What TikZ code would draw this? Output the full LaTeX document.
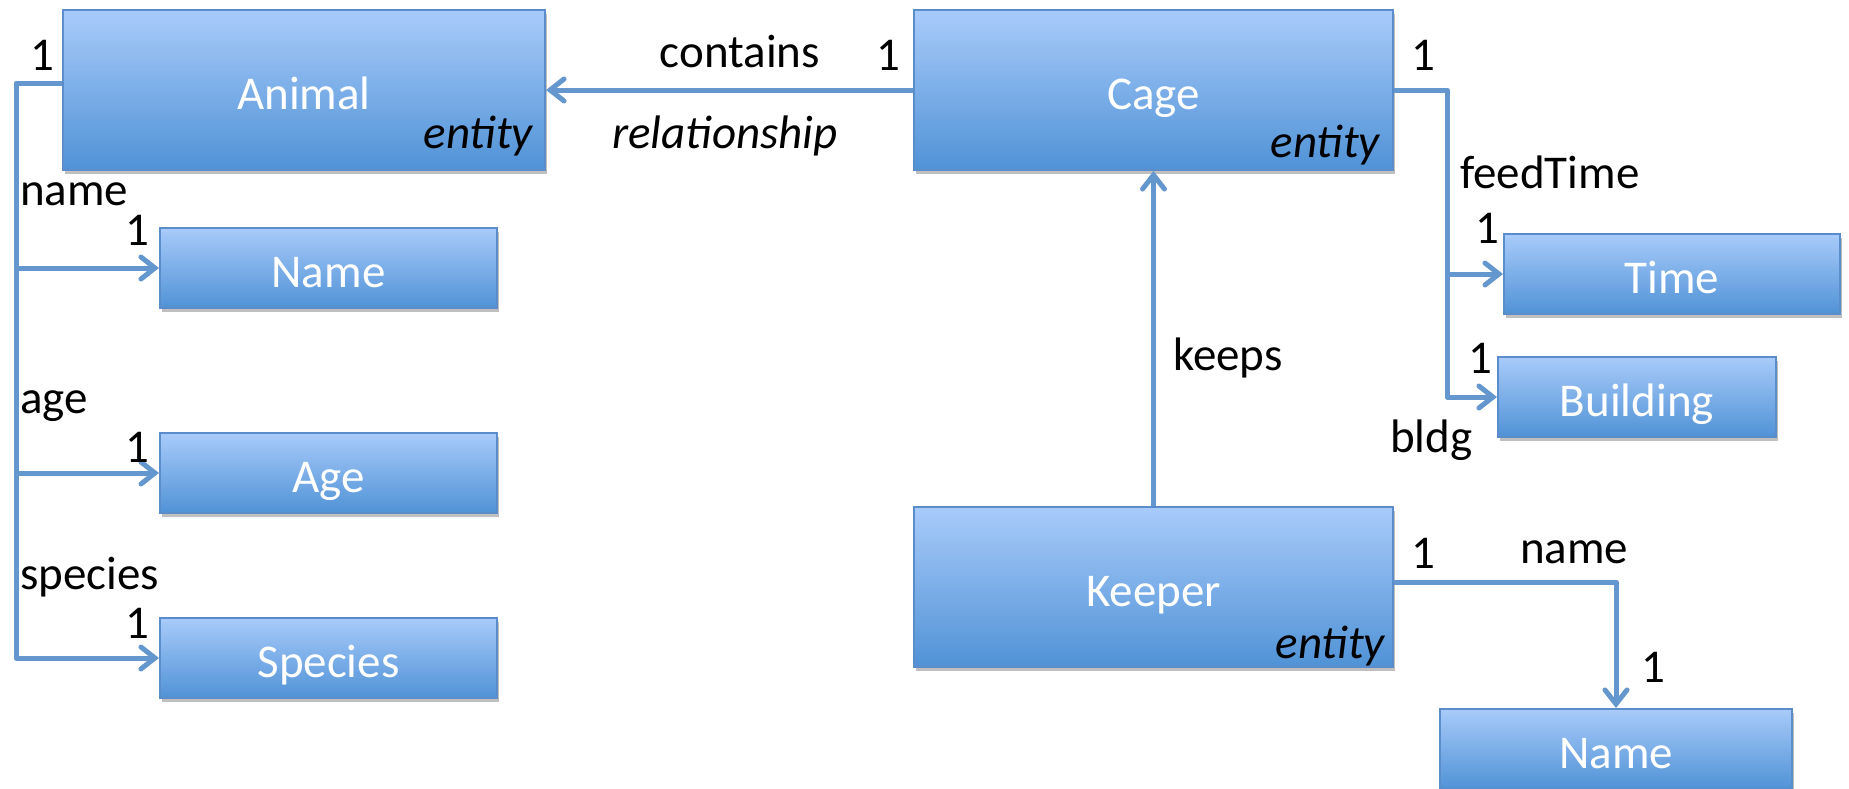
\documentclass[tikz,border=0pt]{standalone}
\usepackage{fontspec}
\setmainfont{Carlito}
\usetikzlibrary{arrows.meta,shadows,calc}
\definecolor{boxtop}{RGB}{168,203,250}
\definecolor{boxbot}{RGB}{80,146,214}
\definecolor{boxline}{RGB}{90,141,201}
\definecolor{conn}{RGB}{99,151,205}
\begin{document}
\begin{tikzpicture}[x=1pt,y=-1pt,
  font=\fontsize{47}{56}\selectfont,
  ebox/.style={draw=boxline, line width=2pt, top color=boxtop, bottom color=boxbot, text=white, inner sep=0pt,
    text height=38pt, text depth=0pt,
    drop shadow={shadow xshift=2pt, shadow yshift=-4pt, opacity=0.25, fill=black}},
  big/.style={ebox, minimum height=160pt},
  small/.style={ebox, minimum height=80pt},
  arr/.style={draw=conn, line width=5pt, -{Straight Barb[length=14pt,width=22pt,line cap=round]}, line join=round},
  lbl/.style={inner sep=0pt, anchor=base west},
  one/.style={inner sep=0pt, anchor=base},
  ital/.style={inner sep=0pt, anchor=base east, font=\fontsize{47}{56}\selectfont\itshape}]
\useasboundingbox (0,0) rectangle (1849,788);

% boxes
\node[big, minimum width=482pt] (animal) at (304,90) {Animal};
\node[big, minimum width=479pt] (cage) at (1153.5,90) {Cage};
\node[big, minimum width=479pt] (keeper) at (1153.5,587) {Keeper};
\node[small, minimum width=337pt] (nameA) at (328.5,268) {Name};
\node[small, minimum width=337pt] (age) at (328.5,473) {Age};
\node[small, minimum width=337pt] (species) at (328.5,658) {Species};
\node[small, minimum width=336pt] (time) at (1672,274) {Time};
\node[small, minimum width=278pt] (bldg) at (1637,397) {Building};
\node[small, minimum width=352pt] (nameK) at (1616,749) {Name};

% connectors
\coordinate (ta) at (16,83);
\draw[arr] (animal.west |- ta) -- (ta) |- (species.west);
\draw[arr] (ta |- nameA.west) -- (nameA.west);
\draw[arr] (ta |- age.west) -- (age.west);
\draw[arr] (cage.west) -- (animal.east);
\draw[arr] (keeper.north) -- (cage.south);
\coordinate (tc) at (1447,90);
\draw[arr] (cage.east) -- (tc) |- (bldg.west);
\draw[arr] (tc |- time.west) -- (time.west);
\coordinate (kc) at (1616,582);
\draw[arr] (keeper.east |- kc) -- (kc) -- (nameK.north);

% labels
\node[one] (n1) at (42,70) {1};
\node[lbl] (lname) at (20,205) {name};
\node[one] (n2) at (137,245) {1};
\node[lbl] (lage) at (20,413) {age};
\node[one] (n3) at (137,462) {1};
\node[lbl] (lspec) at (20,589) {species};
\node[one] (n4) at (137,638) {1};
\node[one] (lcont) at (740,67) {contains};
\node[one] (n5) at (888,70) {1};
\node[one, font=\fontsize{47}{56}\selectfont\itshape] (lrel) at (725,148) {relationship};
\node[one] (n6) at (1423,70) {1};
\node[lbl] (lfeed) at (1460,188) {feedTime};
\node[one] (n7) at (1487,243) {1};
\node[one] (n8) at (1480,373) {1};
\node[lbl] (lbldg) at (1390,452) {bldg};
\node[lbl] (lkeeps) at (1173,370) {keeps};
\node[one] (n9) at (1423,568) {1};
\node[lbl] (lnameK) at (1520,563) {name};
\node[one] (n10) at (1653,682) {1};
\node[ital] (e1) at (533,148) {entity};
\node[ital] (e2) at (1380,157) {entity};
\node[ital] (e3) at (1385,658) {entity};
\end{tikzpicture}
\end{document}
